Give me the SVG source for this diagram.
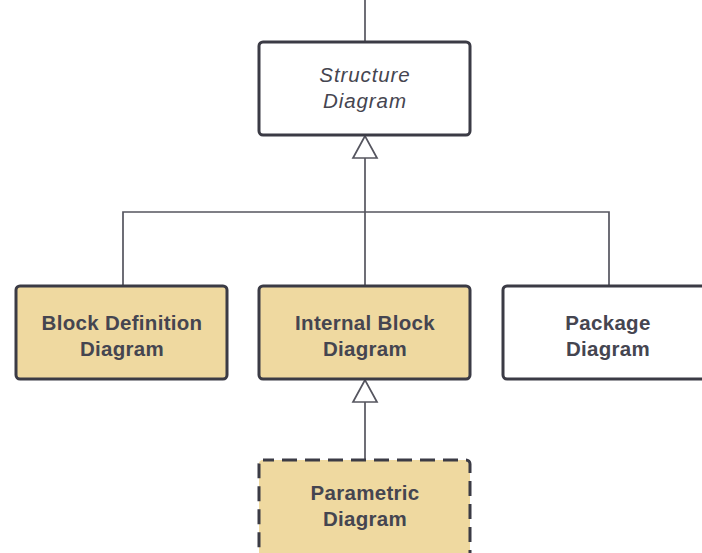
<svg xmlns="http://www.w3.org/2000/svg" width="702" height="553" viewBox="0 0 702 553">
  <style>
    .box { stroke: #3b3b45; stroke-width: 3; }
    .plain { fill: #ffffff; }
    .block { fill: #efd9a0; }
    .dashed { stroke-dasharray: 15 8; stroke-dashoffset: 4; }
    .lbl { font-family: "Liberation Sans", Arial, sans-serif; font-size: 20.5px; fill: #454550; text-anchor: middle; letter-spacing: 0.3px; }
    .bold { font-weight: bold; }
    .ital { font-style: italic; letter-spacing: 0.9px; }
    .wire { fill: none; stroke: #55555f; stroke-width: 1.7; }
    .head { fill: #ffffff; stroke: #55555f; stroke-width: 1.7; }
  </style>

  <!-- connectors: generalization lines with hollow triangle heads -->
  <g id="connectors">
    <line class="wire" x1="365" y1="0" x2="365" y2="42"/>
    <line class="wire" x1="365" y1="158" x2="365" y2="285"/>
    <polyline class="wire" points="123,285 123,212 609,212 609,285"/>
    <polygon class="head" points="365,136 353,158 377,158"/>
    <line class="wire" x1="365" y1="402" x2="365" y2="459"/>
    <polygon class="head" points="365,380 353,402 377,402"/>
  </g>

  <g id="structure-diagram">
    <rect class="box plain" x="259" y="42" width="211" height="93" rx="4"/>
    <text class="lbl ital" x="365" y="82">Structure</text>
    <text class="lbl ital" x="365" y="108">Diagram</text>
  </g>

  <g id="block-definition-diagram">
    <rect class="box block" x="16" y="286" width="211" height="93" rx="4"/>
    <text class="lbl bold" x="122" y="330">Block Definition</text>
    <text class="lbl bold" x="122" y="356">Diagram</text>
  </g>

  <g id="internal-block-diagram">
    <rect class="box block" x="259" y="286" width="211" height="93" rx="4"/>
    <text class="lbl bold" x="365" y="330">Internal Block</text>
    <text class="lbl bold" x="365" y="356">Diagram</text>
  </g>

  <g id="package-diagram">
    <rect class="box plain" x="503" y="286" width="211" height="93" rx="4"/>
    <text class="lbl bold" x="608" y="330">Package</text>
    <text class="lbl bold" x="608" y="356">Diagram</text>
  </g>

  <g id="parametric-diagram">
    <rect class="box block dashed" x="259" y="460" width="211" height="100" rx="4"/>
    <text class="lbl bold" x="365" y="500">Parametric</text>
    <text class="lbl bold" x="365" y="526">Diagram</text>
  </g>
</svg>
